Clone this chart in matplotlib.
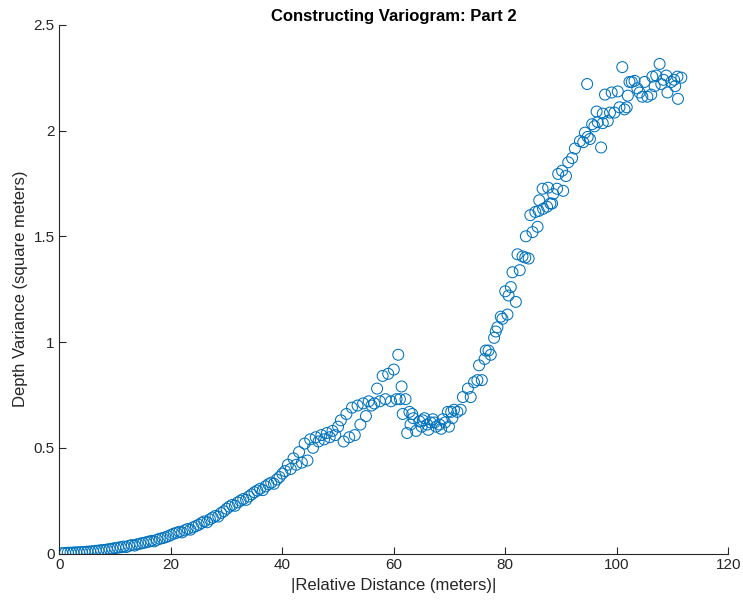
import numpy as np
import matplotlib
matplotlib.use('Agg')
import matplotlib.pyplot as plt

plt.rcParams['font.family'] = ['Liberation Sans', 'DejaVu Sans']

# lag distance (m) and semivariance
dist_near = [0.5, 1.0, 1.5, 2.0, 2.5, 3.0, 3.5, 4.0, 4.5, 5.0,
             5.5, 6.0, 6.5, 7.0, 7.5, 8.0, 8.5, 9.0, 9.5, 10.0,
             10.5, 11.0, 11.5, 12.0, 12.5, 13.0, 13.5, 14.0, 14.5, 15.0,
             15.5, 16.0, 16.5, 17.0, 17.5, 18.0, 18.5, 19.0, 19.5, 20.0,
             20.5, 21.0, 21.5, 22.0, 22.5, 23.0, 23.5, 24.0, 24.5, 25.0,
             25.5, 26.0, 26.5, 27.0, 27.5, 28.0, 28.5, 29.0, 29.5, 30.0,
             30.5, 31.0, 31.5, 32.0, 32.5, 33.0, 33.5, 34.0, 34.5, 35.0,
             35.5, 36.0, 36.5, 37.0, 37.5, 38.0, 38.5, 39.0, 39.5, 40.0]
var_near = [0.002, 0.003, 0.004, 0.004, 0.005, 0.006, 0.006, 0.007, 0.008, 0.009,
            0.010, 0.011, 0.013, 0.014, 0.016, 0.017, 0.019, 0.021, 0.023, 0.026,
            0.028, 0.030, 0.033, 0.031, 0.037, 0.040, 0.038, 0.044, 0.047, 0.050,
            0.053, 0.056, 0.060, 0.058, 0.065, 0.070, 0.073, 0.077, 0.082, 0.088,
            0.094, 0.098, 0.103, 0.100, 0.110, 0.116, 0.113, 0.124, 0.130, 0.136,
            0.145, 0.152, 0.148, 0.162, 0.170, 0.178, 0.175, 0.192, 0.200, 0.212,
            0.222, 0.230, 0.226, 0.242, 0.250, 0.258, 0.254, 0.270, 0.280, 0.290,
            0.298, 0.306, 0.300, 0.318, 0.328, 0.335, 0.330, 0.350, 0.362, 0.378]

dist_mid = [40.5, 41.0, 41.5, 42.0, 42.5, 43.0, 43.5, 44.0, 44.5, 45.0,
            45.5, 46.0, 46.5, 47.0, 47.5, 48.0, 48.5, 49.0, 49.5, 50.0,
            50.5, 51.0, 51.5, 52.0, 52.5, 53.0, 53.5, 54.0, 54.5, 55.0,
            55.5, 56.0, 56.5, 57.0, 57.5, 58.0, 58.5, 59.0, 59.5, 60.0,
            60.5, 60.8, 61.1, 61.4, 61.6, 62.1, 62.4, 62.8, 63.0, 63.3,
            63.5, 64.0, 64.6, 65.0, 65.2, 65.5, 66.0, 66.2, 66.6, 67.0,
            67.3, 67.6, 68.2, 68.5, 68.8, 69.2, 69.7, 69.9, 70.3, 70.5,
            70.8, 71.4, 72.0, 72.4, 73.3, 73.8, 74.4, 75.0, 75.3, 75.8,
            76.3, 76.5, 77.0, 77.4, 78.0, 78.3, 78.6, 79.2, 79.5]
var_mid = [0.39, 0.42, 0.40, 0.45, 0.42, 0.48, 0.43, 0.52, 0.44, 0.54,
           0.50, 0.55, 0.53, 0.56, 0.54, 0.57, 0.55, 0.58, 0.56, 0.60,
           0.63, 0.53, 0.66, 0.55, 0.69, 0.56, 0.70, 0.61, 0.71, 0.65,
           0.72, 0.70, 0.71, 0.78, 0.72, 0.84, 0.73, 0.85, 0.72, 0.87,
           0.73, 0.94, 0.73, 0.79, 0.66, 0.73, 0.57, 0.67, 0.61, 0.66,
           0.64, 0.58, 0.625, 0.60, 0.63, 0.64, 0.61, 0.585, 0.62, 0.635,
           0.62, 0.60, 0.61, 0.59, 0.635, 0.62, 0.67, 0.60, 0.67, 0.64,
           0.68, 0.67, 0.68, 0.74, 0.78, 0.74, 0.81, 0.82, 0.89, 0.82,
           0.92, 0.96, 0.96, 0.94, 1.02, 1.05, 1.07, 1.12, 1.11]

dist_far = [80.0, 80.4, 80.6, 81.0, 81.3, 81.9, 82.2, 82.6, 83.1, 83.6,
            83.7, 84.2, 84.5, 84.9, 85.4, 85.8, 86.0, 86.1, 86.7, 86.8,
            87.5, 87.7, 88.1, 88.4, 88.6, 89.3, 89.5, 90.2, 90.4, 90.9,
            91.3, 92.0, 92.5, 93.4, 94.0, 94.3, 94.7, 94.8, 95.2, 95.6,
            96.0, 96.4, 96.6, 97.2, 97.5, 97.5, 97.9, 98.4, 98.8, 99.1,
            99.6, 100.2, 100.5, 101.0, 101.4, 101.8, 102.0, 102.3, 102.7, 103.2,
            103.7, 104.1, 104.6, 105.0, 105.5, 106.2, 106.4, 106.8, 107.1, 107.7,
            108.0, 108.4, 108.9, 109.1, 109.8, 110.3, 110.5, 110.9, 111.0, 111.6]
var_far = [1.24, 1.13, 1.22, 1.26, 1.33, 1.19, 1.415, 1.34, 1.405, 1.40,
           1.50, 1.395, 1.60, 1.52, 1.615, 1.545, 1.62, 1.67, 1.725, 1.63,
           1.64, 1.73, 1.655, 1.655, 1.70, 1.725, 1.795, 1.81, 1.715, 1.785,
           1.85, 1.87, 1.915, 1.95, 1.945, 1.99, 2.22, 1.97, 1.96, 2.03,
           2.02, 2.09, 2.04, 1.92, 2.035, 2.08, 2.17, 2.045, 2.085, 2.18,
           2.085, 2.185, 2.11, 2.30, 2.10, 2.11, 2.165, 2.23, 2.23, 2.235,
           2.20, 2.18, 2.16, 2.23, 2.16, 2.17, 2.255, 2.21, 2.26, 2.315,
           2.22, 2.24, 2.26, 2.18, 2.23, 2.24, 2.21, 2.255, 2.15, 2.25]

x_ticks = [0, 20, 40, 60, 80, 100, 120]
y_ticks = [0, 0.5, 1, 1.5, 2, 2.5]
y_tick_labels = ['0', '0.5', '1', '1.5', '2', '2.5']


def main():
    dist = np.array(dist_near + dist_mid + dist_far)
    var = np.array(var_near + var_mid + var_far)

    fig = plt.figure(figsize=(7.43, 6.05), dpi=100)
    ax = fig.add_axes([0.080, 0.085, 0.900, 0.874])
    ax.scatter(dist, var, s=62, facecolors='none', edgecolors='#0072BD', linewidths=0.75)

    ax.set_xlim(0, 120)
    ax.set_ylim(0, 2.5)
    ax.set_xticks(x_ticks)
    ax.set_yticks(y_ticks)
    ax.set_yticklabels(y_tick_labels)
    for side in ['top', 'right']:
        ax.spines[side].set_visible(False)
    for side in ['left', 'bottom']:
        ax.spines[side].set_color('#262626')
        ax.spines[side].set_linewidth(0.8)
    ax.tick_params(direction='in', length=5, width=0.8, colors='#262626', labelsize=11)

    ax.set_xlabel('|Relative Distance (meters)|', fontsize=12, color='#262626')
    ax.set_ylabel('Depth Variance (square meters)', fontsize=12, color='#262626')
    ax.set_title('Constructing Variogram: Part 2', fontsize=12, fontweight='bold', pad=3)

    fig.savefig('out.png', dpi=100)


if __name__ == "__main__":
    main()
